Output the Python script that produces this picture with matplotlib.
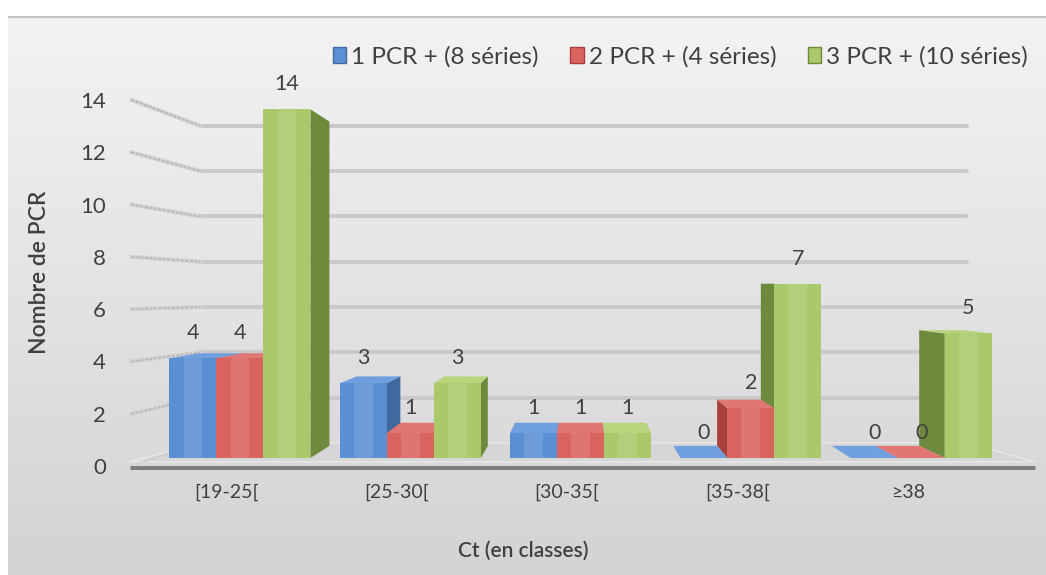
import matplotlib.pyplot as plt
import numpy as np
from matplotlib.patches import Polygon, Rectangle, Patch
from matplotlib.colors import LinearSegmentedColormap

# Ct classes and number of PCR per series
categories = ['[19-25[', '[25-30[', '[30-35[', '[35-38[', '≥38']
pcr_1 = [4, 3, 1, 0, 0]
pcr_2 = [4, 1, 1, 2, 0]
pcr_3 = [14, 3, 1, 7, 5]
series_names = ['1 PCR + (8 séries)', '2 PCR + (4 séries)', '3 PCR + (10 séries)']
y_ticks = [0, 2, 4, 6, 8, 10, 12, 14]

plt.rcParams['font.family'] = ['Lato', 'DejaVu Sans']
text_col = '#404040'

# face colours: front, side, top
front_cols = ['#5b8fd3', '#d9635e', '#a9c96a']
side_cols = ['#40699f', '#a7403c', '#6e8a3c']
top_cols = ['#6f9fdf', '#e07772', '#b8d57e']

fig = plt.figure(figsize=(10.46, 5.75), dpi=100)

# grey gradient background with a thin rule on top
bg = fig.add_axes([8 / 1046, 0, 1 - 8 / 1046, 1 - 16 / 575], zorder=-10)
grad = np.linspace(0, 1, 256)[:, None] * np.ones((1, 4))
bg.imshow(grad, aspect='auto', extent=[0, 1, 0, 1], origin='upper',
          cmap=LinearSegmentedColormap.from_list('bg', ['#f3f3f3', '#d3d3d3']))
bg.axhline(1, color='#c4c4c4', lw=2.5)
bg.axis('off')

rect = [120 / 1046, 105 / 575, 920 / 1046, 410 / 575]
ax = fig.add_axes(rect)
ax.set_xlim(-0.7046, 4.6976)
ax.set_ylim(-0.482, 15.98)
ax.patch.set_visible(False)
for s in ax.spines.values():
    s.set_visible(False)

# value axis drawn on its own scale, like the front edge of the 3D box
ax2 = ax.twinx()
ax2.set_ylim(-0.153, 15.53)
ax2.yaxis.tick_left()
ax2.set_yticks(y_ticks)
ax2.tick_params(axis='y', length=0, pad=10, labelsize=16, labelcolor=text_col)
for s in ax2.spines.values():
    s.set_visible(False)
ax.set_yticks([])

# perspective settings
vp = np.array([2.0, 6.95])
depth = 0.07
wall_y0, wall_k = 0.6, 0.91
wall_x = (-0.235, 4.27)
floor_x = (-0.646, 4.668)


def to_back(x, y):
    return x + depth * (vp[0] - x), y + depth * (vp[1] - y)


def ax2_to_ax(y):
    px = ax2.transData.transform((0, y))
    return ax.transData.inverted().transform(px)[1]


# floor and front axis line
ax.add_patch(Polygon([(floor_x[0], -0.15), (floor_x[1], -0.15),
                      (wall_x[1], wall_y0), (wall_x[0], wall_y0)],
                     closed=True, facecolor='#d6d6d6', edgecolor='#e8e8e8', lw=1, zorder=1))
ax.plot(floor_x, [-0.4, -0.4], color='#7d7d7d', lw=3.5, zorder=2, solid_capstyle='butt')

# back wall gridlines and their slanted links to the value axis
for v in y_ticks[1:]:
    wy = wall_y0 + wall_k * v
    ax.plot(wall_x, [wy, wy], color='#c9c9c9', lw=2.8, zorder=1, solid_capstyle='round')
    ly = ax2_to_ax(v)
    ax.plot([floor_x[0] + 0.01, wall_x[0]], [ly, wy], color='#d2d2d2', lw=3, zorder=1)
    ax.plot([floor_x[0] + 0.01, wall_x[0]], [ly, wy], color='#b4b4b4', lw=1.2,
            dashes=(1.5, 1.2), zorder=1)
ly0 = ax2_to_ax(0)
ax.plot([floor_x[0] + 0.01, wall_x[0]], [ly0, wall_y0], color='#c8c8c8', lw=1.2,
        dashes=(1.5, 1.2), zorder=1)

# 3D columns
bar_w = 0.276
series = [pcr_1, pcr_2, pcr_3]
x = np.arange(len(categories))
bars = []
for k, vals in enumerate(series):
    for i, v in enumerate(vals):
        xc = x[i] + (k - 1) * bar_w
        bars.append((xc, v, k))
bars.sort(key=lambda b: -abs(b[0] - vp[0]))

z = 3
for xc, v, k in bars:
    x0, x1 = xc - bar_w / 2, xc + bar_w / 2
    bx0, by0 = to_back(x0, 0)
    bx1, _ = to_back(x1, 0)
    _, bv = to_back(x0, v)
    if x1 < vp[0]:
        side = [(x1, 0), (x1, v), (bx1, bv), (bx1, by0)]
    else:
        side = [(x0, 0), (x0, v), (bx0, bv), (bx0, by0)]
    ax.add_patch(Polygon(side, closed=True, facecolor=side_cols[k], edgecolor='none', zorder=z))
    if v < vp[1]:
        top = [(x0, v), (x1, v), (bx1, bv), (bx0, bv)]
        ax.add_patch(Polygon(top, closed=True, facecolor=top_cols[k], edgecolor='none', zorder=z + 0.1))
    if v > 0:
        ax.add_patch(Rectangle((x0, 0), bar_w, v, facecolor=front_cols[k], edgecolor='none', zorder=z + 0.2))
        ax.add_patch(Rectangle((x0 + 0.3 * bar_w, 0), 0.4 * bar_w, v, facecolor='white',
                               alpha=0.12, edgecolor='none', zorder=z + 0.3))
    z += 1

# value labels
for k, vals in enumerate(series):
    for i, v in enumerate(vals):
        ax.annotate(str(v), (x[i] + (k - 1) * bar_w, v), xytext=(0, 18),
                    textcoords='offset points', ha='center', va='center',
                    fontsize=15.5, color=text_col, zorder=50)

ax.set_xticks(x - 0.08)
ax.set_xticklabels(categories)
ax.tick_params(axis='x', length=0, pad=10, labelsize=14, labelcolor=text_col)

fig.text(523 / 1046, 1 - 551 / 575, 'Ct (en classes)', ha='center', va='center',
         fontsize=15, color=text_col, fontweight='semibold')
fig.text(40 / 1046, 1 - 272 / 575, 'Nombre de PCR', ha='center', va='center',
         rotation=90, fontsize=16.5, color=text_col, fontweight='semibold')

handles = [Patch(facecolor=front_cols[k], edgecolor=side_cols[k]) for k in range(3)]
fig.legend(handles, series_names, loc='center left', bbox_to_anchor=(333 / 1046, 1 - 57 / 575),
           ncol=3, frameon=False, handlelength=0.55, handleheight=0.6, handletextpad=0.2,
           columnspacing=1.3, fontsize=17.5, borderaxespad=0, borderpad=0,
           labelcolor=text_col)

fig.savefig('out.png', dpi=100)
